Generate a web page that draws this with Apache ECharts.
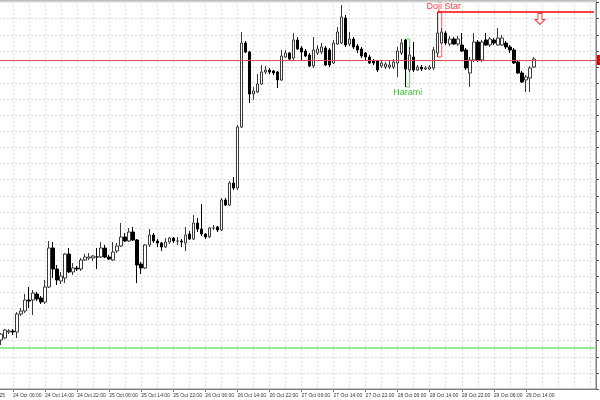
<!DOCTYPE html>
<html><head><meta charset="utf-8">
<script src="https://cdn.jsdelivr.net/npm/echarts@6/dist/echarts.min.js"></script>
<style>html,body{margin:0;padding:0;background:#fff}#c{width:600px;height:400px}</style>
</head><body><div id="c"></div>
<script>
// hourly bars, first bar = 24 Oct 03:00
const startDay = 24, startHour = 3, monthName = 'Oct';
const slotCount = 149;          // visible hourly slots (incl. empty right margin)
const yearLabel = '24 Oct 2025';

const openP = [
1659,1661,1667,1668,1667,1685,1688,1699,1699,1705,
1701,1697,1712,1751,1730,1718,1721,1745,1727,1731,
1730,1739,1741,1741,1742,1742,1751,1742,1739,1748,
1753,1762,1758,1767,1759,1735,1731,1754,1764,1758,
1756,1752,1757,1761,1758,1758,1756,1765,1760,1776,
1770,1765,1762,1771,1772,1769,1799,1794,1816,1811,
1872,1956,1947,1905,1907,1915,1927,1929,1928,1927,
1919,1942,1946,1941,1959,1951,1948,1944,1933,1946,
1947,1951,1949,1936,1955,1956,1981,1955,1960,1953,
1950,1946,1942,1938,1938,1933,1932,1932,1932,1936,
1946,1959,1929,1942,1929,1932,1930,1930,1931,1946,
1956,1966,1955,1960,1955,1954,1949,1926,1939,1957,
1939,1959,1954,1959,1954,1954,1956,1952,1949,1937,
1926,1919,1921,1932];
const closeP = [
1665,1669,1668,1667,1685,1688,1699,1698,1706,1700,
1697,1712,1751,1730,1719,1723,1745,1727,1731,1730,
1739,1742,1742,1743,1742,1751,1742,1740,1747,1753,
1762,1758,1767,1759,1734,1731,1754,1764,1758,1756,
1752,1757,1761,1758,1758,1757,1764,1760,1776,1770,
1765,1762,1771,1771,1769,1799,1794,1816,1811,1872,
1956,1947,1905,1908,1915,1927,1929,1927,1926,1919,
1943,1946,1940,1959,1950,1947,1943,1933,1949,1950,
1952,1934,1934,1956,1967,1982,1954,1960,1952,1949,
1943,1942,1936,1936,1929,1936,1935,1934,1937,1948,
1956,1930,1944,1929,1932,1930,1931,1932,1949,1966,
1967,1956,1960,1955,1960,1948,1931,1939,1957,1939,
1957,1954,1960,1956,1961,1961,1952,1949,1936,1926,
1917,1922,1931,1940];
const lowP = [
1654,1660,1665,1664,1661,1683,1686,1691,1684,1698,
1695,1695,1711,1721,1714,1715,1716,1726,1724,1728,
1728,1738,1739,1738,1730,1741,1741,1739,1738,1746,
1752,1757,1757,1758,1716,1725,1730,1752,1756,1752,
1748,1751,1755,1756,1754,1752,1748,1759,1759,1767,
1763,1760,1761,1769,1767,1768,1793,1793,1809,1809,
1871,1946,1896,1899,1906,1914,1925,1925,1924,1911,
1918,1941,1938,1939,1949,1939,1942,1932,1931,1944,
1945,1933,1932,1935,1954,1955,1952,1953,1950,1946,
1941,1939,1935,1934,1927,1931,1930,1930,1930,1922,
1944,1912,1927,1927,1928,1928,1929,1929,1929,1942,
1955,1954,1953,1954,1953,1947,1929,1912,1937,1937,
1937,1953,1952,1954,1953,1953,1950,1946,1935,1925,
1916,1907,1907,1931];
const highP = [
1666,1670,1670,1670,1687,1691,1705,1712,1709,1707,
1703,1719,1758,1757,1734,1727,1746,1751,1736,1733,
1741,1745,1746,1744,1751,1757,1754,1744,1757,1756,
1776,1766,1771,1772,1760,1737,1755,1770,1766,1760,
1757,1761,1762,1762,1762,1760,1772,1768,1784,1781,
1795,1766,1772,1774,1773,1801,1801,1818,1822,1874,
1967,1958,1948,1912,1925,1934,1933,1931,1929,1928,
1949,1949,1947,1966,1962,1953,1950,1946,1962,1954,
1956,1953,1951,1959,1972,1994,1984,1967,1962,1955,
1952,1947,1944,1940,1939,1938,1937,1938,1940,1952,
1960,1960,1952,1957,1934,1934,1933,1934,1952,1987,
1971,1968,1963,1962,1963,1966,1951,1942,1966,1959,
1959,1966,1962,1961,1971,1964,1958,1954,1951,1939,
1928,1924,1933,1942];

const currentLevel = 1939;     // red horizontal line
const supportLevel = 1651;     // green horizontal line
const dojiIndex = 109, dojiLabel = 'Doji Star';
const haramiIndex = 101, haramiLabel = 'Harami';
const arrowIndex = 135, arrowLevel = 1980;
const yMin = 1610, yMax = 1998, yStep = 16.1;

const categories = [];
for (let i = 0; i < slotCount; i++) {
  const h = startHour + i;
  const d = startDay + Math.floor(h / 24);
  categories.push(d + ' ' + monthName + ' ' + String(h % 24).padStart(2, '0') + ':00');
}
const N = openP.length;
const candles = openP.map((o, i) => [o, closeP[i], lowP[i], highP[i]]);

const narrow = '"Liberation Sans Narrow", "Liberation Sans", Arial, sans-serif';
const labelShow = (i) => i < N && (i - 3) % 8 === 0;
const gridShow = (i) => (i - 3) % 4 === 0;

const chart = echarts.init(document.getElementById('c'), null, {renderer: 'canvas'});
chart.setOption({
  animation: false,
  backgroundColor: '#ffffff',
  grid: {left: -1, right: 4, top: 1, bottom: 11, containLabel: false, outerBoundsMode: 'none',
         show: true, borderColor: '#7f7f7f', borderWidth: 1, backgroundColor: '#ffffff'},
  xAxis: {
    type: 'category', data: categories, boundaryGap: true,
    axisLine: {lineStyle: {color: '#7f7f7f', width: 1}},
    axisTick: {show: true, interval: labelShow, alignWithLabel: true, length: 3, lineStyle: {color: '#7f7f7f'}},
    axisLabel: {interval: labelShow, align: 'left', fontSize: 5, fontFamily: narrow, color: '#333', margin: 4,
                hideOverlap: false, showMinLabel: true, showMaxLabel: true},
    splitLine: {show: true, interval: gridShow, alignWithLabel: true, lineStyle: {color: '#dedede', type: [2, 2], width: 1}}
  },
  yAxis: {
    type: 'value', position: 'right', min: yMin, max: yMax, interval: yStep, scale: true,
    axisLine: {show: true, lineStyle: {color: '#7f7f7f', width: 1}},
    axisTick: {show: true, length: 3, lineStyle: {color: '#555'}},
    axisLabel: {margin: 5, fontSize: 7, color: '#222', formatter: (v) => v.toFixed(1)},
    splitLine: {show: true, lineStyle: {color: '#dedede', type: [2, 2], width: 1}}
  },
  graphic: [{type: 'text', x: 5, y: 393, style: {text: yearLabel, align: 'right', verticalAlign: 'top', fontSize: 5, fontFamily: narrow, fill: '#333'}}],
  series: [{
    type: 'candlestick',
    data: candles,
    barWidth: 3,
    itemStyle: {color: '#ffffff', color0: '#000000', borderColor: '#3a3a3a', borderColor0: '#000000', borderWidth: 1},
    markLine: {
      silent: true, symbol: ['none', 'none'],
      data: [
        {yAxis: currentLevel, lineStyle: {color: '#e24848', width: 1, type: 'solid'},
         label: {show: true, position: 'end', formatter: currentLevel.toFixed(1), backgroundColor: '#e00000', color: '#fff', fontSize: 8, padding: [1, 2], distance: 1}},
        {yAxis: supportLevel, lineStyle: {color: '#90ee90', width: 2, type: 'solid'}, label: {show: false}},
        [{coord: [categories[dojiIndex], highP[dojiIndex]], lineStyle: {color: '#ff0000', width: 1.5, type: 'solid'}, label: {show: false}},
         {coord: [categories[slotCount - 1], highP[dojiIndex]]}]
      ]
    },
    markArea: {
      silent: true,
      data: [
        [{name: haramiLabel, xAxis: categories[haramiIndex], yAxis: lowP[haramiIndex],
          itemStyle: {color: 'rgba(0,0,0,0)', borderColor: '#66cc66', borderWidth: 1},
          label: {show: true, position: 'bottom', distance: 1, color: '#3cc43c', fontSize: 9, fontFamily: narrow}},
         {xAxis: categories[haramiIndex + 1], yAxis: highP[haramiIndex]}],
        [{name: dojiLabel, xAxis: categories[dojiIndex], yAxis: lowP[dojiIndex],
          itemStyle: {color: 'rgba(0,0,0,0)', borderColor: '#ff5555', borderWidth: 1},
          label: {show: true, position: 'top', distance: 0, offset: [4, 0], color: '#ff3a3a', fontSize: 9, fontFamily: narrow}},
         {xAxis: categories[dojiIndex + 1], yAxis: highP[dojiIndex]}]
      ]
    },
    markPoint: {
      silent: true,
      data: [{coord: [categories[arrowIndex], arrowLevel], symbol: 'path://M3,0 L7,0 L7,6 L10,6 L5,11 L0,6 L3,6 Z',
        symbolSize: [10, 11], symbolOffset: [-2, 0],
        itemStyle: {color: '#ffffff', borderColor: '#ff4040', borderWidth: 1}, label: {show: false}}]
    }
  }]
});
</script></body></html>
